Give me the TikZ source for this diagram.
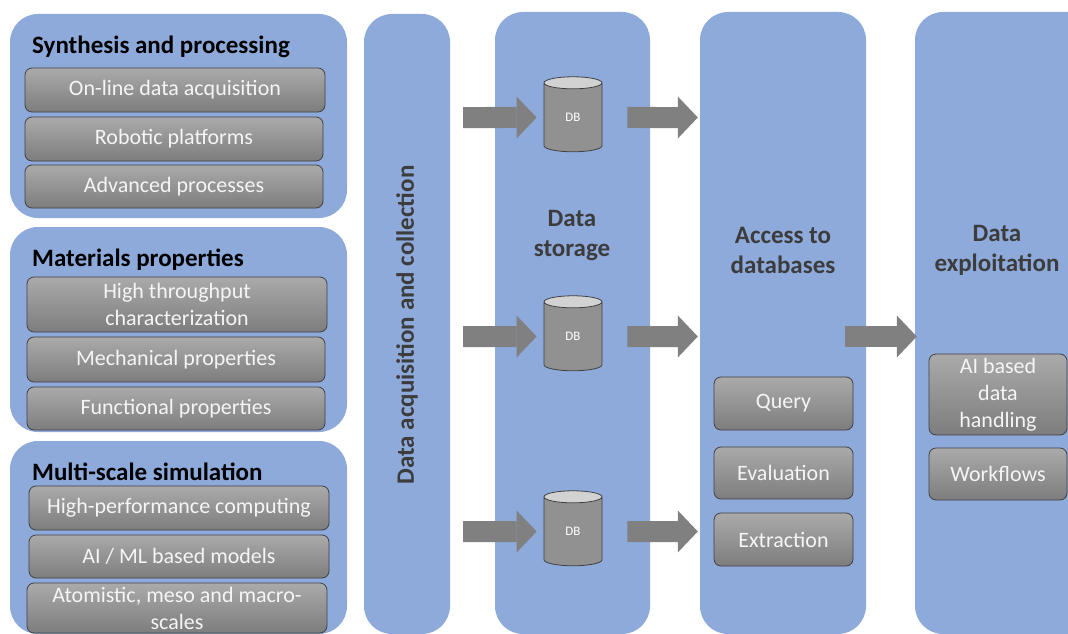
\documentclass[tikz,border=0pt]{standalone}
\usepackage{fontspec}
\setmainfont{Carlito}
\usetikzlibrary{shapes.geometric,arrows.meta}
\definecolor{colblue}{RGB}{142,170,219}
\definecolor{boxtop}{RGB}{170,170,170}
\definecolor{boxbot}{RGB}{125,125,125}
\definecolor{boxedge}{RGB}{64,64,64}
\definecolor{boxtext}{RGB}{245,245,245}
\definecolor{titlegray}{RGB}{60,60,60}
\definecolor{arrowgray}{RGB}{128,128,128}
\definecolor{cylbody}{RGB}{145,145,145}
\definecolor{cylend}{RGB}{210,210,210}

\begin{document}
\begin{tikzpicture}[x=1pt,y=-1pt,
   grp/.style={fill=colblue,rounded corners=28pt,minimum width=337pt,inner sep=0pt},
   col/.style={fill=colblue,rounded corners=28pt,minimum height=622pt,inner sep=0pt},
   grptitle/.style={anchor=base west,inner sep=0pt,font=\fontsize{25}{28}\selectfont\bfseries},
   coltitle/.style={align=center,text=titlegray,inner sep=0pt,font=\fontsize{25}{30}\selectfont\bfseries},
   item/.style={draw=boxedge,line width=0.8pt,rounded corners=7pt,top color=boxtop,bottom color=boxbot,
      text=boxtext,align=center,inner sep=0pt,font=\fontsize{22}{27}\selectfont},
   dbcyl/.style={cylinder,shape border rotate=90,aspect=0.8,draw=boxedge,line width=0.8pt,
      cylinder uses custom fill,cylinder body fill=cylbody,cylinder end fill=cylend,
      minimum width=58pt,minimum height=75pt,inner sep=0pt,text=white,font=\fontsize{13}{15}\selectfont},
   fatarrow/.style={draw=arrowgray,line width=21pt,-{Triangle[length=20pt,width=42pt,line width=0pt]}}]
   \path[use as bounding box] (0,0) rectangle (1068,634);
   \clip (0,0) rectangle (1068,634);

   \node[grp,minimum height=204pt] (g_1) at (178.5,116) {};
   \node[grp,minimum height=205pt] (g_2) at (178.5,329.5) {};
   \node[grp,minimum height=193pt] (g_3) at (178.5,537.5) {};

   \node[col,minimum width=86pt,minimum height=620pt] (acq) at (407,324) {};
   \node[col,minimum width=155pt] (store) at (572.5,323) {};
   \node[col,minimum width=166pt] (access) at (783,323) {};
   \node[col,minimum width=185pt] (exploit) at (1007.5,323) {};

   \node[grptitle] (t_1) at (32,53) {Synthesis and processing};
   \node[grptitle] (t_2) at (32,266) {Materials properties};
   \node[grptitle] (t_3) at (32,480) {Multi-scale simulation};

   \node[item,minimum width=300pt,minimum height=44pt] (s_1) at (175,90) {On-line data acquisition};
   \node[item,minimum width=298pt,minimum height=44pt] (s_2) at (174,139) {Robotic platforms};
   \node[item,minimum width=298pt,minimum height=43pt] (s_3) at (174,186.5) {Advanced processes};

   \node[item,minimum width=300pt,minimum height=55pt] (m_1) at (177,304.5) {High throughput\\characterization};
   \node[item,minimum width=298pt,minimum height=45pt] (m_2) at (176,359.5) {Mechanical properties};
   \node[item,minimum width=298pt,minimum height=43pt] (m_3) at (176,408.5) {Functional properties};

   \node[item,minimum width=300pt,minimum height=44pt] (c_1) at (179,508) {High-performance computing};
   \node[item,minimum width=300pt,minimum height=43pt] (c_2) at (179,556.5) {AI / ML based models};
   \node[item,minimum width=300pt,minimum height=50pt] (c_3) at (177,608) {Atomistic, meso and macro-\\scales};

   \node[coltitle,rotate=90] (acqlabel) at (407,325) {Data acquisition and collection};
   \node[coltitle] (storelabel) at (572,236) {Data\\storage};
   \node[coltitle] (accesslabel) at (783,250) {Access to\\databases};
   \node[coltitle] (exploitlabel) at (997,250) {Data\\exploitation};

   \node[dbcyl] (db_1) at (573,117.5) {DB};
   \node[dbcyl] (db_2) at (573,336.5) {DB};
   \node[dbcyl] (db_3) at (573,531.5) {DB};

   \node[item,minimum width=139pt,minimum height=53pt] (q_1) at (783.5,403.5) {Query};
   \node[item,minimum width=139pt,minimum height=52pt] (q_2) at (783.5,473) {Evaluation};
   \node[item,minimum width=139pt,minimum height=53pt] (q_3) at (783.5,539.5) {Extraction};

   \node[item,minimum width=138pt,minimum height=81pt] (x_1) at (998,394.5) {AI based\\data\\handling};
   \node[item,minimum width=138pt,minimum height=52pt] (x_2) at (998,474) {Workflows};

   \draw[fatarrow,shorten <=13pt,shorten >=7pt] (acq.east |- db_1) -- (db_1.west);
   \draw[fatarrow,shorten <=13pt,shorten >=7pt] (acq.east |- db_2) -- (db_2.west);
   \draw[fatarrow,shorten <=13pt,shorten >=7pt] (acq.east |- db_3) -- (db_3.west);
   \draw[fatarrow,shorten <=25pt,shorten >=2pt] (db_1.east) -- (access.west |- db_1);
   \draw[fatarrow,shorten <=25pt,shorten >=2pt] (db_2.east) -- (access.west |- db_2);
   \draw[fatarrow,shorten <=25pt,shorten >=2pt] (db_3.east) -- (access.west |- db_3);
   \draw[fatarrow,shorten <=-21pt,shorten >=-2pt] (access.east |- db_2) -- (exploit.west |- db_2);
\end{tikzpicture}
\end{document}
